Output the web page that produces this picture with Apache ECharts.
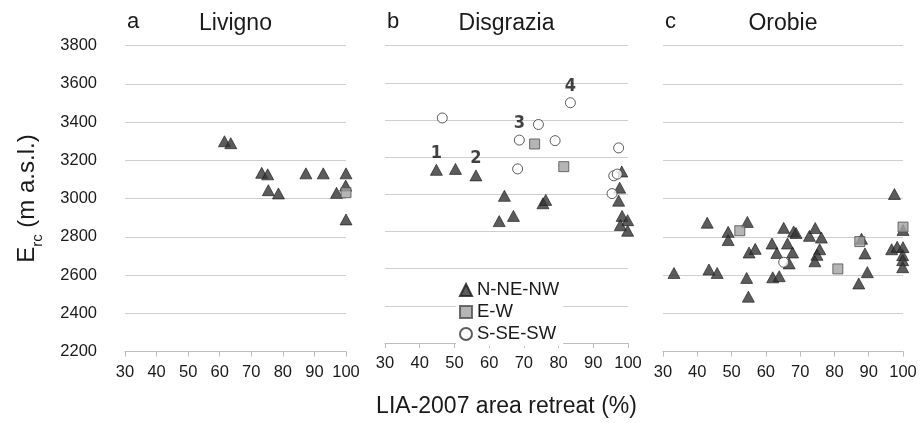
<!DOCTYPE html>
<html><head><meta charset="utf-8">
<script src="https://cdn.jsdelivr.net/npm/echarts@6/dist/echarts.min.js"></script>
<style>html,body{margin:0;padding:0;background:#fff}#c{width:920px;height:423px}</style>
</head><body><div id="c"></div>
<script>
// ---------- data ----------
const panelLetters = ['a', 'b', 'c'];
const panelNames = ['Livigno', 'Disgrazia', 'Orobie'];
const groupNames = ['N-NE-NW', 'E-W', 'S-SE-SW'];
const xTitle = 'LIA-2007 area retreat (%)';
const yTitleMain = 'E';
const yTitleSub = 'rc';
const yTitleRest = ' (m a.s.l.)';
const xMin = 30, xMax = 100, xStep = 10;
const yMin = 2200, yMax = 3800, yStep = 200;

// Livigno
const livignoN = [[61.5,3300],[63.5,3290],[73.3,3135],[75.2,3127],[75.4,3044],[78.6,3027],[87.3,3132],[92.8,3132],[100,3132],[97,3030],[99.9,3068],[100,2891]];
const livignoE = [[100,3031]];
const livignoS = [];

// Disgrazia
const disgraziaN = [[44.8,3132],[50.3,3137],[56.2,3102],[64.4,2992],[62.9,2856],[67,2884],[75.5,2952],[76.3,2970],[98.2,3123],[97.6,3036],[97.3,2966],[98.3,2884],[99.9,2861],[97.8,2835],[99.9,2804]];
const disgraziaE = [[73.1,3271],[81.5,3149]];
const disgraziaS = [[46.5,3411],[68.7,3292],[74.2,3376],[79,3289],[83.4,3493],[68.2,3137],[97.3,3250],[95.9,3100],[96.9,3109],[95.4,3004]];
// point tags (index -> text)
const disgraziaNTags = {0: '1', 2: '2'};
const disgraziaSTags = {1: '3', 4: '4'};

// Orobie
const orobieN = [[33.2,2611],[42.9,2874],[43.4,2629],[45.8,2611],[49,2826],[49,2783],[54.6,2878],[54.4,2585],[54.9,2487],[55.1,2718],[56.9,2737],[61.8,2765],[63.2,2715],[62,2588],[63.9,2594],[65.2,2847],[66.3,2765],[66.8,2661],[67.8,2718],[68.1,2828],[68.8,2820],[72.7,2805],[74.4,2846],[76.2,2796],[75.7,2735],[74.9,2706],[74.3,2672],[87.9,2790],[88.9,2713],[89.6,2615],[87.1,2556],[97.5,3024],[96.7,2735],[98.3,2748],[100,2746],[99.9,2704],[99.9,2678],[99.9,2641],[100,2836]];
const orobieE = [[52.4,2832],[81,2632],[87.4,2775],[100,2851]];
const orobieS = [[65.2,2667]];

// ---------- styles ----------
const FONT = 'Liberation Sans, Arial, sans-serif';
const TXT = '#1a1a1a';
const gridPos = [{left:125, width:221}, {left:385, width:243}, {left:663, width:240}];
const GRID_TOP = 45.7, GRID_H = 305.8;
const groupStyle = [
  {symbol:'triangle', symbolSize:[12,11], itemStyle:{color:'#333333', borderColor:'#1a1a1a', borderWidth:0.8}},
  {symbol:'rect', symbolSize:[10,10], itemStyle:{color:'#a3a3a3', borderColor:'#4d4d4d', borderWidth:1}},
  {symbol:'circle', symbolSize:[10,10], itemStyle:{color:'#ffffff', borderColor:'#333333', borderWidth:1}}
];
const panelData = [
  [livignoN, livignoE, livignoS],
  [disgraziaN, disgraziaE, disgraziaS],
  [orobieN, orobieE, orobieS]
];
const panelTags = [
  [{}, {}, {}],
  [disgraziaNTags, {}, disgraziaSTags],
  [{}, {}, {}]
];

const grid = gridPos.map(g => ({left:g.left, width:g.width, top:GRID_TOP, height:GRID_H, containLabel:false}));
const xAxis = gridPos.map((g, i) => ({
  type:'value', gridIndex:i, min:xMin, max:xMax, interval:xStep,
  axisLine:{show:true, lineStyle:{color:'#bdbdbd', width:1}},
  axisTick:{show:true, length:5, lineStyle:{color:'#bdbdbd'}},
  splitLine:{show:false},
  axisLabel:{color:TXT, fontSize:16.5, fontFamily:FONT, margin:12, formatter: v => String(v)},
  name: i === 1 ? xTitle : '',
  nameLocation:'middle', nameGap:52,
  nameTextStyle:{color:TXT, fontSize:23, fontFamily:FONT}
}));
const yAxis = gridPos.map((g, i) => ({
  type:'value', gridIndex:i, min:yMin, max:yMax, interval:yStep,
  axisLine:{show:false}, axisTick:{show:false},
  splitLine:{show:true, lineStyle:{color:'#cfcfcf', width:1}},
  axisLabel:{show: i === 0, color:TXT, fontSize:16.5, fontFamily:FONT, margin:28, formatter: v => String(v)},
  name: i === 0 ? '{m|' + yTitleMain + '}{s|' + yTitleSub + '}{m|' + yTitleRest + '}' : '',
  nameLocation:'middle', nameGap:86, nameRotate:90,
  nameTextStyle:{color:TXT, fontFamily:FONT,
    rich:{
      m:{fontSize:24, fontFamily:FONT, color:TXT, lineHeight:28, verticalAlign:'bottom'},
      s:{fontSize:15, fontFamily:FONT, color:TXT, lineHeight:28, verticalAlign:'bottom', padding:[0,0,-6,0]}
    }}
}));

const series = [];
panelData.forEach((groups, p) => {
  groups.forEach((pts, g) => {
    const tags = panelTags[p][g];
    series.push(Object.assign({
      type:'scatter', name:groupNames[g], xAxisIndex:p, yAxisIndex:p,
      data: pts.map((pt, k) => tags[k] ? {value:pt, label:{show:true, formatter:tags[k], position:'top', distance:2,
        color:'#111', fontSize:18, fontWeight:'bold', fontFamily:'Liberation Sans Narrow, Arial Narrow, DejaVu Sans Condensed, sans-serif'}} : pt),
      z: 2 + g,
      emphasis:{disabled:true}
    }, groupStyle[g]));
  });
});

const graphic = [];
panelLetters.forEach((l, i) => {
  graphic.push({type:'text', x:gridPos[i].left + 2, y:22, style:{text:l, fill:TXT, font:'22px ' + FONT, textVerticalAlign:'middle', verticalAlign:'middle'}});
  graphic.push({type:'text', x:gridPos[i].left + gridPos[i].width/2, y:24, style:{text:panelNames[i], fill:TXT, font:'23px ' + FONT, align:'center', textAlign:'center', verticalAlign:'middle', textVerticalAlign:'middle'}});
});

const chart = echarts.init(document.getElementById('c'), null, {renderer:'canvas'});
chart.setOption({
  animation:false,
  backgroundColor:'#ffffff',
  grid, xAxis, yAxis, series, graphic,
  legend:{
    data:groupNames, orient:'vertical', left:456, top:278,
    backgroundColor:'#ffffff', padding:[1,4,1,3], itemGap:0,
    itemWidth:12, itemHeight:12,
    textStyle:{color:TXT, fontSize:18.5, fontFamily:FONT, lineHeight:22},
    selectedMode:false
  },
  tooltip:{show:false}
});
</script>
</body></html>
